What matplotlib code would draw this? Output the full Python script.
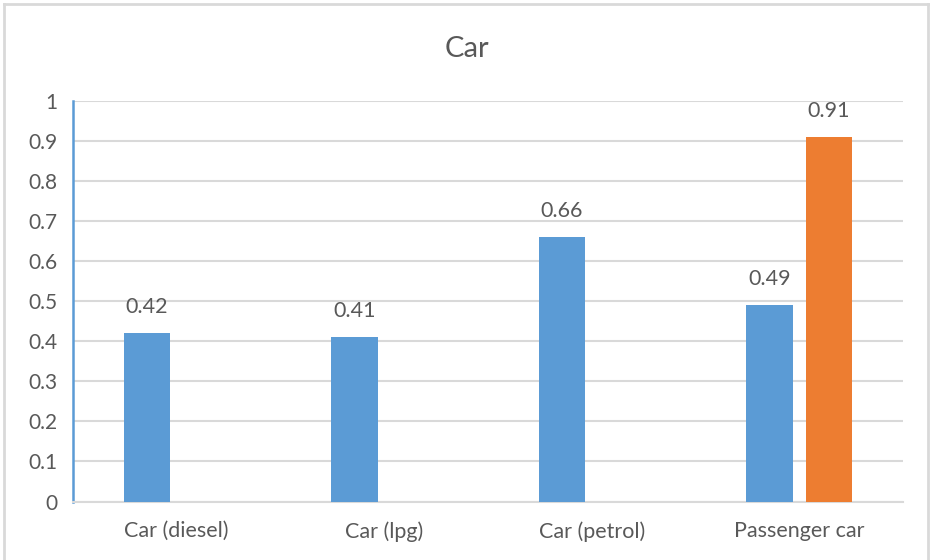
import matplotlib
matplotlib.use("Agg")
import matplotlib.pyplot as plt
from matplotlib.lines import Line2D
import numpy as np

categories = ["Car (diesel)", "Car (lpg)", "Car (petrol)", "Passenger car"]
series_a = [0.42, 0.41, 0.66, 0.49]
series_b = [None, None, None, 0.91]
y_ticks = [0, 0.1, 0.2, 0.3, 0.4, 0.5, 0.6, 0.7, 0.8, 0.9, 1]
y_tick_labels = ["0", "0.1", "0.2", "0.3", "0.4", "0.5", "0.6", "0.7", "0.8", "0.9", "1"]

BLUE = "#5B9BD5"
ORANGE = "#ED7D31"
TEXT = "#595959"
GRID = "#D9D9D9"

plt.rcParams["font.family"] = ["Lato", "DejaVu Sans"]

W, H = 931, 560
fig = plt.figure(figsize=(W / 100, H / 100), dpi=100)
ax = fig.add_axes([73 / W, 1 - 501.5 / H, 830 / W, 400.5 / H])

x = np.arange(len(categories))
bw = 0.224
off = 0.1434

for i, v in enumerate(series_a):
    if v is not None:
        ax.bar(x[i] - off, v, width=bw, color=BLUE, zorder=3)
        ax.annotate(f"{v:.2f}", (x[i] - off, v), xytext=(0, 16),
                    textcoords="offset pixels", ha="center", va="bottom",
                    fontsize=15.5, color=TEXT)
for i, v in enumerate(series_b):
    if v is not None:
        ax.bar(x[i] + off, v, width=bw, color=ORANGE, zorder=3)
        ax.annotate(f"{v:.2f}", (x[i] + off, v), xytext=(0, 16),
                    textcoords="offset pixels", ha="center", va="bottom",
                    fontsize=15.5, color=TEXT)

ax.set_xlim(-0.5, len(categories) - 0.5)
ax.set_ylim(0, 1)
ax.set_yticks(y_ticks)
ax.set_yticklabels(y_tick_labels)
ax.set_xticks(x)
ax.set_xticklabels(categories)

ax.tick_params(axis="y", length=0, pad=11, labelsize=15, labelcolor=TEXT)
ax.tick_params(axis="x", length=0, pad=14, labelsize=15.5, labelcolor=TEXT)

ax.grid(axis="y", color=GRID, linewidth=1.5, zorder=0)
for s in ["top", "right"]:
    ax.spines[s].set_visible(False)
ax.spines["bottom"].set_color(GRID)
ax.spines["bottom"].set_linewidth(1.5)
ax.spines["left"].set_color(BLUE)
ax.spines["left"].set_linewidth(1.8)

fig.text(467 / W, 1 - 49 / H, "Car", ha="center", va="center",
         fontsize=21, color=TEXT)

# light frame around the chart area
frame_kw = dict(color="#D9D9D9", linewidth=2, transform=fig.transFigure)
fig.add_artist(Line2D([4 / W, 928 / W], [1 - 4 / H, 1 - 4 / H], **frame_kw))
fig.add_artist(Line2D([4 / W, 4 / W], [0, 1 - 4 / H], **frame_kw))
fig.add_artist(Line2D([928 / W, 928 / W], [0, 1 - 4 / H], **frame_kw))

fig.savefig("out.png", dpi=100)
